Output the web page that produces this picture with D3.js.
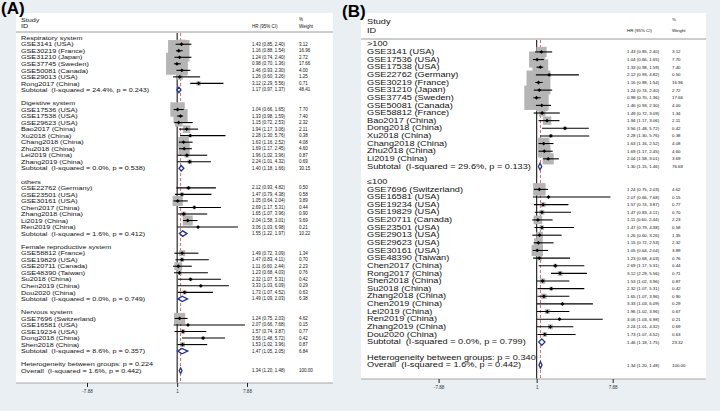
<!DOCTYPE html>
<html><head><meta charset="utf-8">
<script src="https://cdn.jsdelivr.net/npm/d3@7/dist/d3.min.js"></script>
<style>
html,body{margin:0;padding:0;background:#e9eff3;}
svg{display:block;font-family:"Liberation Sans",Arial,sans-serif;}
text{white-space:pre;}
</style></head>
<body><svg id="c" width="720" height="411"></svg>
<script>
// ---------- Panel A data ----------
const groupsA = ["Respiratory system","Digestive system","others","Female reproductive system","Nervous system"];
const studyA = ["GSE3141 (USA)","GSE30219 (France)","GSE31210 (Japan)","GSE37745 (Sweden)","GSE50081 (Canada)","GSE29013 (USA)","Rong2017 (China)",
 "GSE17536 (USA)","GSE17538 (USA)","GSE29623 (USA)","Bao2017 (China)","Xu2018 (China)","Chang2018 (China)","Zhu2018 (China)","Lei2019 (China)","Zhang2019 (China)",
 "GSE22762 (Germany)","GSE23501 (USA)","GSE30161 (USA)","Chen2017 (China)","Zhang2018 (China)","Li2019 (China)","Ren2019 (China)",
 "GSE58812 (France)","GSE19829 (USA)","GSE20711 (Canada)","GSE48390 (Taiwan)","Su2018 (China)","Chen2019 (China)","Dou2020 (China)",
 "GSE7696 (Switzerland)","GSE16581 (USA)","GSE19234 (USA)","Dong2018 (China)","Shen2018 (China)"];
const grpA = [0,0,0,0,0,0,0, 1,1,1,1,1,1,1,1,1, 2,2,2,2,2,2,2, 3,3,3,3,3,3,3, 4,4,4,4,4];
const hrA = [1.43,1.16,1.24,0.98,1.46,1.26,3.12, 1.04,1.33,1.15,1.94,2.28,1.63,1.69,1.96,2.24, 2.12,1.47,1.05,2.69,1.65,2.04,3.06, 1.49,1.47,1.11,1.23,2.32,3.33,1.73, 1.24,2.07,1.57,3.56,1.53];
const loA = [0.85,0.88,0.74,0.70,0.93,0.60,2.29, 0.66,0.98,0.72,1.17,1.30,1.16,1.17,1.02,1.01, 0.93,0.79,0.64,1.17,1.07,1.58,1.03, 0.72,0.83,0.60,0.68,1.07,1.03,1.07, 0.75,0.66,0.74,1.48,1.02];
const hiA = [2.40,1.54,2.40,1.36,2.30,3.26,5.56, 1.65,1.59,2.53,3.06,5.76,2.52,2.45,3.96,4.32, 4.82,4.38,2.04,5.31,3.96,3.01,6.98, 3.09,4.11,2.44,4.03,5.31,6.09,4.52, 2.03,7.68,3.87,5.72,3.96];
const wA  = [3.12,16.96,2.72,17.66,4.00,1.25,0.71, 7.70,7.40,2.32,2.11,0.38,4.08,4.60,0.87,0.69, 0.50,0.58,3.89,0.44,0.90,3.69,0.21, 1.34,0.70,2.23,0.76,0.42,0.29,0.63, 4.62,0.15,0.77,0.42,0.87];
const subLabelA = ["Subtotal  (I-squared = 24.4%, p = 0.243)","Subtotal  (I-squared = 0.0%, p = 0.538)","Subtotal  (I-squared = 1.6%, p = 0.412)","Subtotal  (I-squared = 0.0%, p = 0.749)","Subtotal  (I-squared = 8.6%, p = 0.357)"];
const subHrA = [1.17,1.40,1.55,1.49,1.47];
const subLoA = [0.97,1.18,1.22,1.09,1.05];
const subHiA = [1.37,1.66,1.97,2.03,2.05];
const subWA  = [48.41,30.15,10.22,6.38,6.84];
const hetA = "Heterogeneity between groups: p = 0.224";

// ---------- Panel B data ----------
const groupsB = [">100","\u2264100"];
const studyB = ["GSE3141 (USA)","GSE17536 (USA)","GSE17538 (USA)","GSE22762 (Germany)","GSE30219 (France)","GSE31210 (Japan)","GSE37745 (Sweden)","GSE50081 (Canada)","GSE58812 (France)","Bao2017 (China)","Dong2018 (China)","Xu2018 (China)","Chang2018 (China)","Zhu2018 (China)","Li2019 (China)",
 "GSE7696 (Switzerland)","GSE16581 (USA)","GSE19234 (USA)","GSE19829 (USA)","GSE20711 (Canada)","GSE23501 (USA)","GSE29013 (USA)","GSE29623 (USA)","GSE30161 (USA)","GSE48390 (Taiwan)","Chen2017 (China)","Rong2017 (China)","Shen2018 (China)","Su2018 (China)","Zhang2018 (China)","Chen2019 (China)","Lei2019 (China)","Ren2019 (China)","Zhang2019 (China)","Dou2020 (China)"];
const grpB = [0,0,0,0,0,0,0,0,0,0,0,0,0,0,0, 1,1,1,1,1,1,1,1,1,1,1,1,1,1,1,1,1,1,1,1];
const hrB = [1.43,1.04,1.33,2.12,1.16,1.24,0.98,1.46,1.49,1.94,3.56,2.28,1.63,1.69,2.04, 1.24,2.07,1.57,1.47,1.11,1.47,1.26,1.15,1.05,1.23,2.69,3.12,1.53,2.32,1.65,3.33,1.96,3.06,2.24,1.73];
const loB = [0.85,0.66,0.98,0.93,0.88,0.74,0.70,0.93,0.72,1.17,1.48,1.30,1.16,1.17,1.58, 0.75,0.66,0.74,0.83,0.60,0.79,0.60,0.72,0.64,0.68,1.17,2.29,1.02,1.07,1.07,1.03,1.02,1.03,1.01,1.07];
const hiB = [2.40,1.65,1.59,4.82,1.54,2.40,1.36,2.30,3.09,3.06,5.72,5.76,2.52,2.45,3.01, 2.03,7.68,3.87,4.11,2.44,4.38,3.26,2.53,2.04,4.03,5.31,5.56,3.96,5.31,3.96,6.09,3.96,6.98,4.32,4.52];
const wB  = [3.12,7.70,7.40,0.50,16.96,2.72,17.66,4.00,1.34,2.11,0.42,0.38,4.08,4.60,3.69, 4.62,0.15,0.77,0.70,2.23,0.58,1.35,2.32,3.89,0.76,0.44,0.71,0.87,0.42,0.90,0.29,0.67,0.21,0.69,0.63];
const subLabelB = ["Subtotal  (I-squared = 29.6%, p = 0.133)","Subtotal  (I-squared = 0.0%, p = 0.799)"];
const subHrB = [1.30,1.46];
const subLoB = [1.15,1.18];
const subHiB = [1.46,1.75];
const subWB  = [76.68,23.32];
const hetB = "Heterogeneity between groups: p = 0.340";

// ---------- shared ----------
const overallLabel = "Overall  (I-squared = 1.6%, p = 0.442)";
const overall = {hr:1.34, lo:1.20, hi:1.48, w:100.00};
const tickVals = [-7.88, 1, 7.88];
const tickLabels = ["-7.88","1","7.88"];
const xDomain = [-7.88, 7.88];

const svg = d3.select("#c");
const fmtCI = (h,l,u) => `${h.toFixed(2)} (${l.toFixed(2)}, ${u.toFixed(2)})`;

function buildRows(groups, study, grp, hr, lo, hi, w, subLab, sH, sL, sU, sW, het){
  const rows = [];
  groups.forEach((g, gi) => {
    rows.push({type:"head", label:g});
    study.forEach((s, i) => { if (grp[i] === gi) rows.push({type:"study", label:s, hr:hr[i], lo:lo[i], hi:hi[i], w:w[i]}); });
    rows.push({type:"sub", label:subLab[gi], hr:sH[gi], lo:sL[gi], hi:sU[gi], w:sW[gi]});
    rows.push({type:"blank"});
  });
  rows.push({type:"head", label:het});
  rows.push({type:"sub", label:overallLabel, hr:overall.hr, lo:overall.lo, hi:overall.hi, w:overall.w});
  return rows;
}

function drawPanel(cfg, rows){
  const g = svg.append("g");
  const P = cfg.panel;
  g.append("rect").attr("x",P.x0).attr("y",P.y0).attr("width",P.x1-P.x0).attr("height",P.y1-P.y0).attr("fill","#fff");
  const hs = cfg.headFont;
  const txt = (x,y,s,fs,sy,anchor) => g.append("text").attr("transform",`translate(${x},${y}) scale(1,${sy})`)
      .attr("font-size",fs).attr("dominant-baseline","central").attr("text-anchor",anchor||"start").attr("fill","#111").text(s);
  txt(cfg.labelX, cfg.studyY, "Study", hs, cfg.sy);
  txt(cfg.labelX, cfg.idY, "ID", hs, cfg.sy);
  txt(cfg.hrX, cfg.idY, "HR (95% CI)", cfg.smallFont, 1);
  txt(cfg.wX, cfg.pctY, "%", cfg.smallFont, 1);
  txt(cfg.wX, cfg.idY, "Weight", cfg.smallFont, 1);
  g.append("line").attr("x1",P.x0).attr("x2",P.x1).attr("y1",cfg.headLineY).attr("y2",cfg.headLineY).attr("stroke","#9a9a9a").attr("stroke-width",1);

  const x = d3.scaleLinear().domain(xDomain).range(cfg.xRange);
  const y = d3.scaleLinear().domain([0, rows.length-1]).range([cfg.rowY0, cfg.rowY1]);
  const rh = (cfg.rowY1 - cfg.rowY0)/(rows.length-1);

  g.append("line").attr("x1",x(1)).attr("x2",x(1)).attr("y1",cfg.headLineY+1).attr("y2",P.y1).attr("stroke","#000").attr("stroke-width",1);
  g.append("line").attr("x1",x(overall.hr)).attr("x2",x(overall.hr)).attr("y1",cfg.headLineY+1).attr("y2",P.y1)
    .attr("stroke","#d46a6a").attr("stroke-width",1).attr("stroke-dasharray","3,2");

  const studies = rows.map((r,i)=>({...r,i})).filter(r=>r.type==="study");
  g.selectAll(".box").data(studies).join("rect")
    .attr("x", d => x(d.hr) - cfg.k*Math.sqrt(d.w)/2)
    .attr("y", d => y(d.i) - cfg.k*Math.sqrt(d.w)/2)
    .attr("width", d => cfg.k*Math.sqrt(d.w))
    .attr("height", d => cfg.k*Math.sqrt(d.w))
    .attr("fill","#b5b5b5");
  g.selectAll(".ci").data(studies).join("line")
    .attr("x1", d => x(d.lo)).attr("x2", d => x(d.hi))
    .attr("y1", d => y(d.i)).attr("y2", d => y(d.i))
    .attr("stroke","#000").attr("stroke-width",1.1);
  g.selectAll(".pt").data(studies).join("path")
    .attr("d", d => { const cx=x(d.hr), cy=y(d.i), r=1.9; return `M${cx-r},${cy}L${cx},${cy-r}L${cx+r},${cy}L${cx},${cy+r}Z`; })
    .attr("fill","#000");
  const subs = rows.map((r,i)=>({...r,i})).filter(r=>r.type==="sub");
  g.selectAll(".dia").data(subs).join("path")
    .attr("d", d => { const cy=y(d.i), hh=rh*0.42; return `M${x(d.lo)},${cy}L${x(d.hr)},${cy-hh}L${x(d.hi)},${cy}L${x(d.hr)},${cy+hh}Z`; })
    .attr("fill","#fff").attr("stroke","#23308f").attr("stroke-width",1.3);

  rows.forEach((r,i) => {
    if (r.type === "blank") return;
    txt(cfg.labelX, y(i), r.label, cfg.labFont, cfg.sy);
    if (r.type !== "head") {
      txt(cfg.hrX, y(i), fmtCI(r.hr, r.lo, r.hi), cfg.smallFont, 1);
      txt(cfg.wX, y(i), r.w.toFixed(2), cfg.smallFont, 1);
    }
  });

  g.append("line").attr("x1",P.x0).attr("x2",P.x1).attr("y1",P.y1).attr("y2",P.y1).attr("stroke","#a8a8a8").attr("stroke-width",1.2);
  const ax = d3.axisBottom(x).tickValues(tickVals).tickFormat((d,i)=>tickLabels[i]).tickSize(4).tickPadding(3);
  const axg = g.append("g").attr("transform",`translate(0,${P.y1})`).call(ax);
  axg.select(".domain").remove();
  axg.selectAll("line").attr("stroke","#222");
  axg.selectAll("text").attr("font-size",4.6).attr("fill","#333").attr("font-family","Liberation Sans, Arial");
}

const rowsA = buildRows(groupsA, studyA, grpA, hrA, loA, hiA, wA, subLabelA, subHrA, subLoA, subHiA, subWA, hetA);
const rowsB = buildRows(groupsB, studyB, grpB, hrB, loB, hiB, wB, subLabelB, subHrB, subLoB, subHiB, subWB, hetB);

drawPanel({panel:{x0:16,x1:333,y0:13,y1:383}, labelX:21, studyY:20, idY:26, pctY:19, headLineY:32,
  hrX:252, wX:299, headFont:7.2, labFont:7.2, smallFont:4.5, sy:0.8,
  xRange:[87,247], rowY0:37.7, rowY1:370.7, k:5.2}, rowsA);
drawPanel({panel:{x0:361,x1:706,y0:13,y1:379}, labelX:367, studyY:22, idY:30.5, pctY:19.5, headLineY:39,
  hrX:627, wX:672, headFont:9.2, labFont:9.2, smallFont:4.4, sy:0.76,
  xRange:[438.6,612.7], rowY0:44.3, rowY1:365, k:5.8}, rowsB);

svg.append("text").attr("x",1).attr("y",13.5).attr("font-size",17).attr("font-weight","bold").attr("fill","#000").text("(A)");
svg.append("text").attr("x",342).attr("y",16.5).attr("font-size",17).attr("font-weight","bold").attr("fill","#000").text("(B)");
</script></body></html>
